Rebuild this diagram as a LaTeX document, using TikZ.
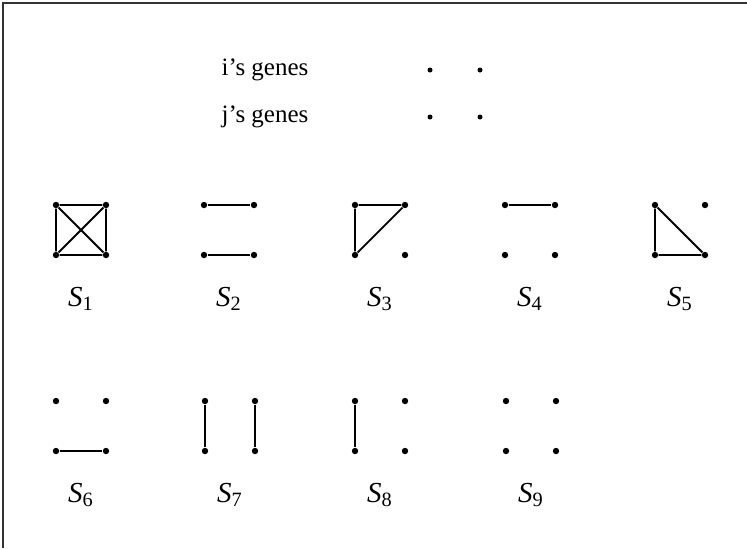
\documentclass[tikz,border=0pt]{standalone}
\usepackage{fontspec}
\setmainfont{Liberation Serif}
\usetikzlibrary{positioning}

\begin{document}
\begin{tikzpicture}[x=0.5pt, y=-0.5pt,
  gene/.style={circle, fill, inner sep=0pt, minimum size=3.2pt},
  small/.style={circle, fill, inner sep=0pt, minimum size=2.5pt},
  lbl/.style={font=\fontsize{12.5}{14}\selectfont},
  statelbl/.style={font=\fontsize{14.5}{16}\selectfont},
  link/.style={line width=0.9pt}
]
\useasboundingbox (0,0) rectangle (747,548);
\draw[line width=1pt, black!80] (3,548) -- (3,3) -- (747,3);

% legend
\node[lbl] (ilab) at (265,70) {i's genes};
\node[lbl] (jlab) at (265,117) {j's genes};
\node[small] (i1) at (430,70) {};
\node[small] (i2) at (480,70) {};
\node[small] (j1) at (430,117) {};
\node[small] (j2) at (480,117) {};

% the nine states: a b on top (i), c d below (j)
\foreach \k/\x/\y in {1/56/205, 2/204/205, 3/355/205, 4/505/205, 5/655/205,
                      6/56/401, 7/205/401, 8/355/401, 9/506/401} {
  \node[gene] (g\k a) at (\x,\y) {};
  \node[gene] (g\k b) at (\x+50,\y) {};
  \node[gene] (g\k c) at (\x,\y+50) {};
  \node[gene] (g\k d) at (\x+50,\y+50) {};
  \node[statelbl] (s\k) at (\x+25,\y+94) {\textit{S}\textsubscript{\k}};
}

\draw[link] (g1a) -- (g1b) -- (g1d) -- (g1c) -- (g1a) -- (g1d);
\draw[link] (g1b) -- (g1c);
\draw[link] (g2a) -- (g2b);
\draw[link] (g2c) -- (g2d);
\draw[link] (g3c) -- (g3a) -- (g3b) -- (g3c);
\draw[link] (g4a) -- (g4b);
\draw[link] (g5a) -- (g5c) -- (g5d) -- (g5a);
\draw[link] (g6c) -- (g6d);
\draw[link] (g7a) -- (g7c);
\draw[link] (g7b) -- (g7d);
\draw[link] (g8a) -- (g8c);

\end{tikzpicture}
\end{document}
